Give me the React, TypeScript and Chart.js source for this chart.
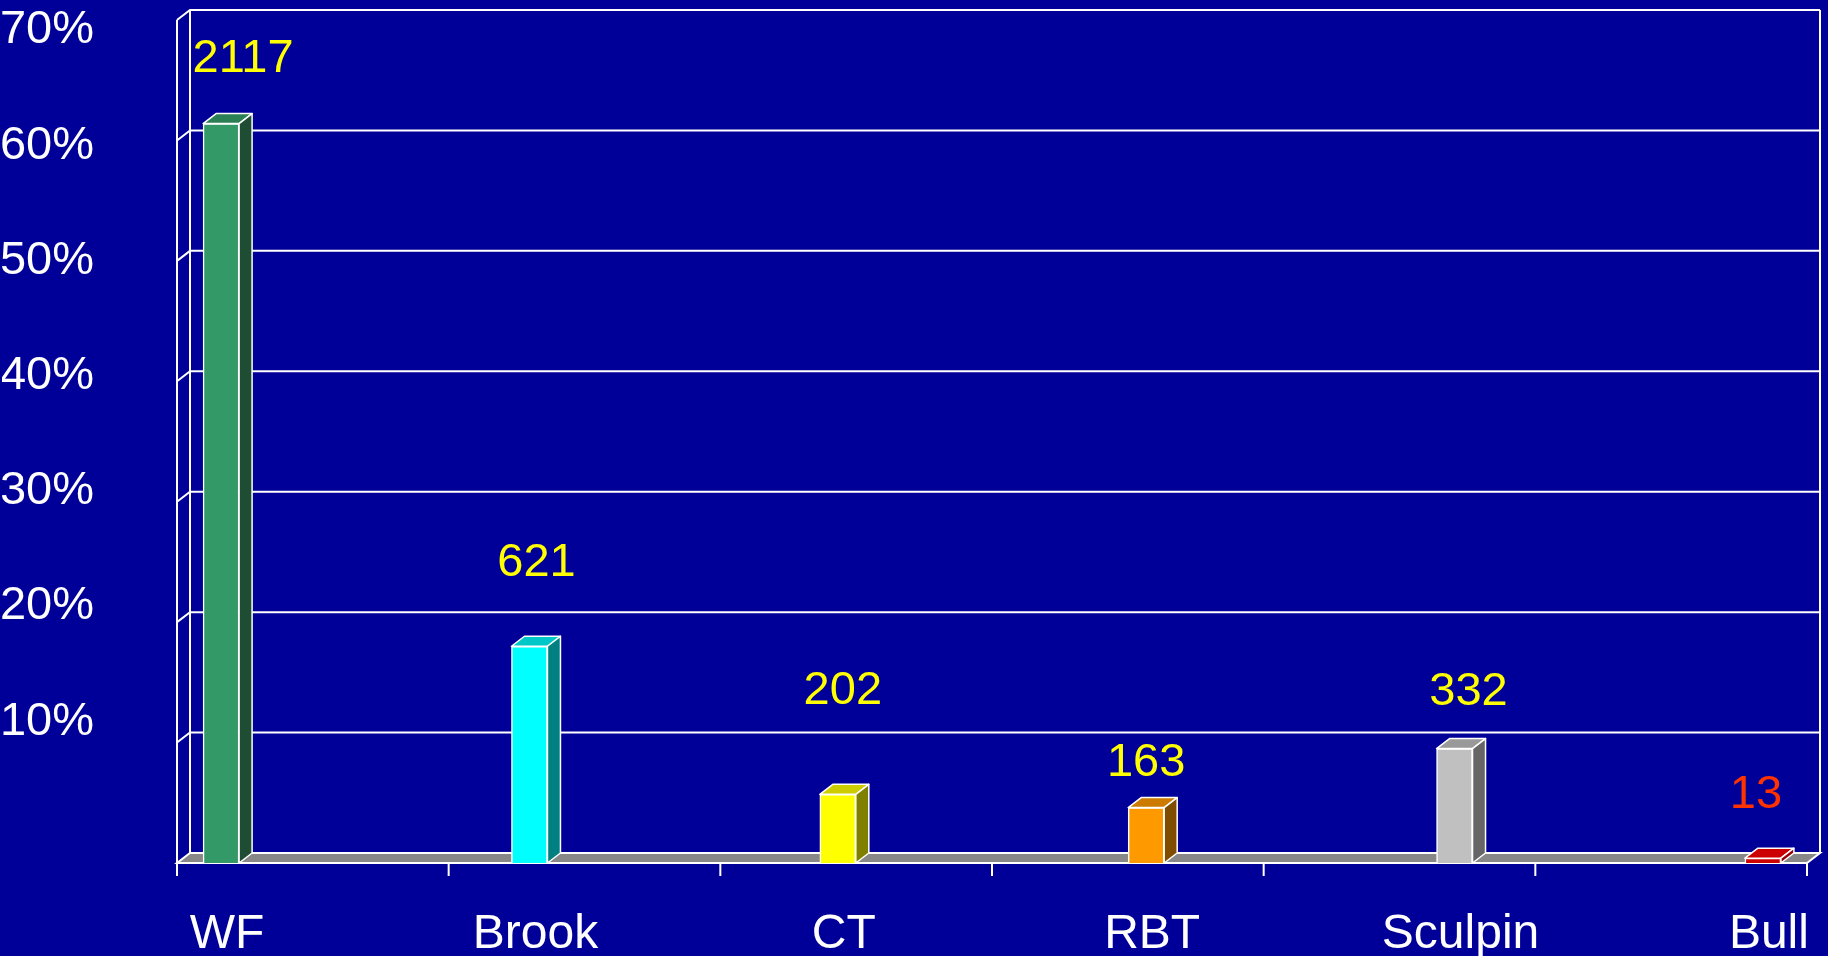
import { useEffect, useRef } from 'react';
import { Chart, registerables } from 'chart.js';

Chart.register(...registerables);

// ---- data ----
const CATEGORIES = ['WF', 'Brook', 'CT', 'RBT', 'Sculpin', 'Bull'];
const PERCENT_VALUES = [61.4, 18.0, 5.7, 4.6, 9.5, 0.4];
const COUNT_LABELS = ['2117', '621', '202', '163', '332', '13'];
const Y_TICKS = [10, 20, 30, 40, 50, 60, 70];

// ---- styles ----
const BG = '#000099';
const FONT = '"Liberation Sans", Arial, sans-serif';
const FACE_COLORS = ['#339966', '#00FFFF', '#FFFF00', '#FF9900', '#C0C0C0', '#CC0000'];
const TOP_COLORS = ['#2B7F55', '#00C8C8', '#CCCC00', '#CC7A00', '#999999', '#CC0000'];
const SIDE_COLORS = ['#1E4D33', '#008080', '#808000', '#804C00', '#666666', '#990000'];
const LABEL_COLORS = ['#FFFF00', '#FFFF00', '#FFFF00', '#FFFF00', '#FFFF00', '#FF3300'];
// hand-placed label offsets (px) from the top-centre of each bar's front face
const LABEL_NUDGE: [number, number][] = [[22, -65], [7, -83], [5, -103], [0, -45], [14, -57], [-7, -63]];
const DEPTH_X = 13;
const DEPTH_Y = -10;
const Y_AXIS_WIDTH = 174;
const X_AXIS_HEIGHT = 93;

const threeD = {
  id: 'threeD',
  beforeDraw(chart: any) {
    const { ctx, width, height } = chart;
    ctx.save();
    ctx.fillStyle = BG;
    ctx.fillRect(0, 0, width, height);
    ctx.restore();
  },
  beforeDatasetsDraw(chart: any) {
    const { ctx, chartArea, scales } = chart;
    const { left, right, top, bottom } = chartArea;
    const y = scales.y;
    ctx.save();
    ctx.strokeStyle = '#FFFFFF';
    ctx.lineWidth = 2;
    // floor
    ctx.fillStyle = '#888888';
    ctx.beginPath();
    ctx.moveTo(left, bottom);
    ctx.lineTo(right, bottom);
    ctx.lineTo(right + DEPTH_X, bottom + DEPTH_Y);
    ctx.lineTo(left + DEPTH_X, bottom + DEPTH_Y);
    ctx.closePath();
    ctx.fill();
    ctx.stroke();
    // gridlines on left and back walls
    for (const t of Y_TICKS) {
      const py = y.getPixelForValue(t);
      ctx.beginPath();
      ctx.moveTo(left, py);
      ctx.lineTo(left + DEPTH_X, py + DEPTH_Y);
      ctx.lineTo(right + DEPTH_X, py + DEPTH_Y);
      ctx.stroke();
    }
    // wall edges
    ctx.beginPath();
    ctx.moveTo(left, top);
    ctx.lineTo(left, bottom);
    ctx.moveTo(left + DEPTH_X, top + DEPTH_Y);
    ctx.lineTo(left + DEPTH_X, bottom + DEPTH_Y);
    ctx.moveTo(right + DEPTH_X, top + DEPTH_Y);
    ctx.lineTo(right + DEPTH_X, bottom + DEPTH_Y);
    ctx.stroke();
    // category tick marks on the front edge
    const n = CATEGORIES.length;
    ctx.beginPath();
    for (let i = 0; i <= n; i++) {
      const px = left + (i * (right - left)) / n;
      ctx.moveTo(px, bottom);
      ctx.lineTo(px, bottom + 13);
    }
    ctx.stroke();
    ctx.restore();
  },
  afterDatasetsDraw(chart: any) {
    const { ctx } = chart;
    const meta = chart.getDatasetMeta(0);
    ctx.save();
    ctx.strokeStyle = '#FFFFFF';
    ctx.lineWidth = 1.5;
    ctx.lineJoin = 'round';
    meta.data.forEach((el: any, i: number) => {
      const { x, y, base, width } = el.getProps(['x', 'y', 'base', 'width'], true);
      const x0 = x - width / 2;
      const x1 = x + width / 2;
      // top face
      ctx.fillStyle = TOP_COLORS[i];
      ctx.beginPath();
      ctx.moveTo(x0, y);
      ctx.lineTo(x0 + DEPTH_X, y + DEPTH_Y);
      ctx.lineTo(x1 + DEPTH_X, y + DEPTH_Y);
      ctx.lineTo(x1, y);
      ctx.closePath();
      ctx.fill();
      ctx.stroke();
      // side face
      ctx.fillStyle = SIDE_COLORS[i];
      ctx.beginPath();
      ctx.moveTo(x1, y);
      ctx.lineTo(x1 + DEPTH_X, y + DEPTH_Y);
      ctx.lineTo(x1 + DEPTH_X, base + DEPTH_Y);
      ctx.lineTo(x1, base);
      ctx.closePath();
      ctx.fill();
      ctx.stroke();
      // count label
      ctx.fillStyle = LABEL_COLORS[i];
      ctx.font = `47px ${FONT}`;
      ctx.textAlign = 'center';
      ctx.textBaseline = 'middle';
      ctx.fillText(COUNT_LABELS[i], x + LABEL_NUDGE[i][0], y + LABEL_NUDGE[i][1]);
    });
    ctx.restore();
  },
};

export default function App() {
  const canvasRef = useRef<HTMLCanvasElement | null>(null);

  useEffect(() => {
    if (!canvasRef.current) return;
    const chart = new Chart(canvasRef.current, {
      type: 'bar',
      data: {
        datasets: [
          {
            data: PERCENT_VALUES.map((v, i) => ({ x: i, y: v })),
            backgroundColor: FACE_COLORS,
            borderColor: '#FFFFFF',
            borderWidth: 1.5,
            barThickness: 36,
            yAxisID: 'y',
            xAxisID: 'x',
          },
        ],
      },
      options: {
        animation: false,
        responsive: true,
        maintainAspectRatio: false,
        layout: { padding: { left: 2, right: 21, top: 20, bottom: 0 } },
        plugins: { legend: { display: false }, tooltip: { enabled: false } },
        scales: {
          x: {
            type: 'linear',
            offset: false,
            min: -0.143,
            max: 5.143,
            grid: { display: false, drawTicks: false, offset: false },
            border: { display: false },
            afterBuildTicks: (s: any) => {
              s.ticks = CATEGORIES.map((_, i) => ({ value: i }));
            },
            afterFit: (s: any) => {
              s.height = X_AXIS_HEIGHT;
              s.paddingLeft = 0;
              s.paddingRight = 0;
              s.paddingTop = 0;
              s.paddingBottom = 0;
            },
            ticks: {
              autoSkip: false,
              maxRotation: 0,
              callback: (_v: any, i: number) => CATEGORIES[i],
              color: '#FFFFFF',
              font: { family: FONT, size: 48, lineHeight: 1.2 },
              padding: 43,
              labelOffset: 6,
            },
          },
          y: { type: 'linear', min: 0, max: 70, display: false },
          yLab: {
            type: 'linear',
            position: 'left',
            min: -2.27,
            max: 70.91,
            grid: { display: false, drawTicks: false },
            border: { display: false },
            afterBuildTicks: (s: any) => {
              s.ticks = Y_TICKS.map((v) => ({ value: v }));
            },
            afterFit: (s: any) => {
              s.width = Y_AXIS_WIDTH + 1;
              s.paddingLeft = 0;
              s.paddingRight = 0;
              s.paddingTop = 0;
              s.paddingBottom = 0;
            },
            ticks: {
              callback: (v: any) => `${v}%`,
              color: '#FFFFFF',
              font: { family: FONT, size: 47, lineHeight: 0.8 },
              padding: 83,
            },
          },
        },
      } as any,
      plugins: [threeD],
    });
    return () => chart.destroy();
  }, []);

  return (
    <div style={{ position: 'absolute', left: 0, top: 0, width: 1828, height: 956, background: BG }}>
      <canvas ref={canvasRef} />
    </div>
  );
}
